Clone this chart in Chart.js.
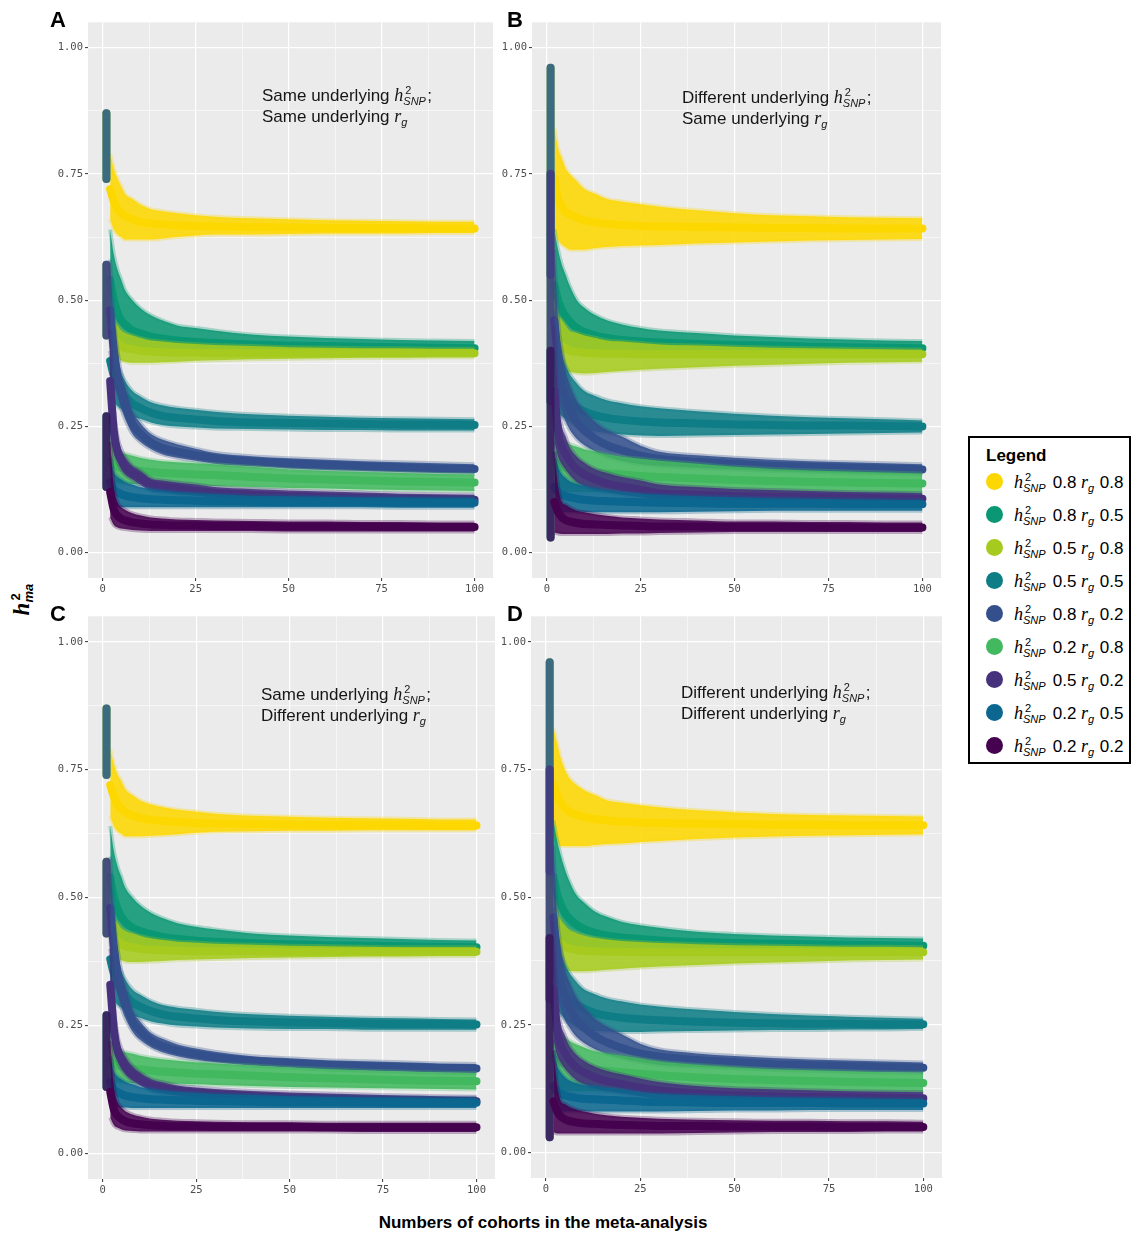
<!DOCTYPE html>
<html>
<head>
<meta charset="utf-8">
<title>h2 meta-analysis convergence</title>
<script src="https://cdn.jsdelivr.net/npm/chart.js@4.4.1/dist/chart.umd.min.js"></script>
<style>
  html, body { margin: 0; padding: 0; background: #fff; }
  body { position: relative; width: 1132px; height: 1235px; overflow: hidden;
         font-family: "Liberation Sans", Arial, sans-serif; color: #000; }
  canvas { position: absolute; }
  .tag { position: absolute; font-size: 22px; font-weight: bold; line-height: 22px; }
  .note { position: absolute; font-size: 17px; line-height: 21px; color: #161616; white-space: nowrap; z-index: 2; }
  .mi { font-family: "Liberation Serif", "DejaVu Serif", serif; font-style: italic; }
  .note .mi, #legend .mi { font-size: 18px; }
  .ss { display: inline-block; position: relative; height: 1px; font-size: 11px; line-height: 11px; }
  .ss span { position: absolute; left: 0; white-space: nowrap; }
  .ss .up { top: -15px; left: 2px; font-style: normal; }
  .ss .dn { top: -4px; font-style: italic; }
  #legend { position: absolute; left: 968px; top: 436px; width: 159px; height: 324px; border: 2px solid #000; }
  #legend .ttl { position: absolute; left: 16px; top: 8px; font-size: 17px; font-weight: bold; }
  #legend .row { position: absolute; left: 0; height: 20px; font-size: 17px; line-height: 20px; white-space: nowrap; }
  #legend .dot { position: absolute; left: 16px; top: 1px; width: 17px; height: 17px; border-radius: 50%; }
  #legend .lab { position: absolute; left: 44px; top: 0; }
  #ytitle { position: absolute; left: -9px; top: 589px; width: 60px; text-align: center;
            transform: rotate(-90deg); font-size: 23px; font-weight: bold; line-height: 22px; }
  #xtitle { position: absolute; left: 0; top: 1213px; width: 1086px; text-align: center;
            font-size: 17px; font-weight: bold; }
</style>
</head>
<body>
<canvas id="cA" width="460" height="596" style="left:40px;top:14px"></canvas>
<canvas id="cB" width="450" height="596" style="left:500px;top:14px"></canvas>
<canvas id="cC" width="460" height="600" style="left:40px;top:608px"></canvas>
<canvas id="cD" width="450" height="600" style="left:500px;top:608px"></canvas>

<div class="tag" style="left:50px;top:9px">A</div>
<div class="tag" style="left:507px;top:9px">B</div>
<div class="tag" style="left:50px;top:603px">C</div>
<div class="tag" style="left:507px;top:603px">D</div>

<div class="note" style="left:262px;top:85px">Same underlying <span class="mi">h</span><span class="ss" style="width:24px"><span class="up">2</span><span class="dn">SNP</span></span>;<br>Same underlying <span class="mi">r</span><span class="ss" style="width:7px"><span class="dn">g</span></span></div>
<div class="note" style="left:682px;top:87px">Different underlying <span class="mi">h</span><span class="ss" style="width:24px"><span class="up">2</span><span class="dn">SNP</span></span>;<br>Same underlying <span class="mi">r</span><span class="ss" style="width:7px"><span class="dn">g</span></span></div>
<div class="note" style="left:261px;top:684px">Same underlying <span class="mi">h</span><span class="ss" style="width:24px"><span class="up">2</span><span class="dn">SNP</span></span>;<br>Different underlying <span class="mi">r</span><span class="ss" style="width:7px"><span class="dn">g</span></span></div>
<div class="note" style="left:681px;top:682px">Different underlying <span class="mi">h</span><span class="ss" style="width:24px"><span class="up">2</span><span class="dn">SNP</span></span>;<br>Different underlying <span class="mi">r</span><span class="ss" style="width:7px"><span class="dn">g</span></span></div>

<div id="ytitle"><span class="mi">h</span><span class="ss" style="width:17px;font-size:13px"><span class="up" style="top:-18px">2</span><span class="dn" style="top:-5px">ma</span></span></div>
<div id="xtitle">Numbers of cohorts in the meta-analysis</div>
<div id="legend"><div class="ttl">Legend</div></div>

<script>
// cohorts in the meta-analysis (x) at which values were read
const X = [1, 2, 3, 4, 5, 6, 8, 10, 13, 16, 20, 25, 30, 40, 50, 60, 70, 80, 90, 100];
const X_TICKS = [0, 25, 50, 75, 100];
const Y_TICKS = [0, 0.25, 0.5, 0.75, 1];

// series, in legend order
const H2_SNP = [0.8, 0.8, 0.5, 0.5, 0.8, 0.2, 0.5, 0.2, 0.2];
const R_G    = [0.8, 0.5, 0.8, 0.5, 0.2, 0.8, 0.2, 0.5, 0.2];
const COLORS = ['#FDD700', '#0A9774', '#A6CB1E', '#0F7D86', '#33508C', '#42B85F', '#46317D', '#0B6690', '#45024F'];

// ---- panel A: same h2, same rg  (rows follow legend order) ----
const MID_A = [
  [.80,.72,.695,.68,.672,.666,.66,.655,.652,.65,.648,.647,.646,.645,.644,.643,.643,.643,.642,.642],
  [.80,.54,.50,.475,.46,.452,.44,.435,.428,.424,.42,.417,.415,.412,.41,.409,.408,.407,.406,.405],
  [.50,.44,.425,.415,.41,.406,.403,.40,.398,.397,.396,.396,.395,.395,.395,.395,.395,.395,.395,.395],
  [.50,.38,.35,.33,.318,.31,.295,.287,.277,.271,.267,.264,.261,.258,.257,.256,.255,.254,.254,.253],
  [.80,.48,.40,.35,.318,.295,.255,.237,.218,.208,.20,.193,.187,.181,.177,.174,.171,.169,.167,.166],
  [.20,.18,.175,.17,.168,.166,.164,.162,.16,.158,.157,.155,.154,.15,.147,.145,.143,.141,.14,.139],
  [.50,.34,.24,.20,.183,.17,.158,.149,.135,.131,.127,.123,.119,.115,.112,.11,.108,.107,.106,.105],
  [.20,.14,.125,.12,.116,.113,.11,.108,.106,.105,.104,.103,.102,.101,.10,.10,.10,.099,.099,.099],
  [.20,.12,.085,.073,.067,.064,.06,.058,.056,.055,.054,.054,.053,.053,.052,.052,.052,.051,.051,.051]
];
const LO_A = [
  [.74,.66,.64,.63,.625,.62,.62,.62,.62,.622,.625,.628,.63,.63,.631,.632,.632,.632,.633,.633],
  [.74,.44,.42,.41,.405,.40,.40,.40,.398,.398,.397,.396,.396,.395,.395,.395,.395,.395,.395,.395],
  [.43,.40,.39,.385,.38,.378,.376,.376,.376,.377,.378,.38,.381,.383,.384,.385,.386,.386,.387,.387],
  [.43,.32,.30,.29,.285,.28,.27,.265,.258,.253,.25,.248,.246,.245,.244,.243,.243,.242,.242,.242],
  [.74,.40,.34,.31,.285,.265,.235,.22,.205,.195,.188,.182,.176,.171,.167,.164,.162,.16,.158,.157],
  [.13,.14,.14,.138,.137,.137,.136,.136,.136,.135,.134,.133,.132,.13,.128,.127,.125,.124,.123,.122],
  [.43,.26,.20,.18,.165,.155,.145,.135,.122,.119,.116,.113,.109,.106,.103,.101,.10,.098,.097,.096],
  [.13,.10,.095,.092,.09,.09,.09,.09,.09,.09,.09,.09,.09,.09,.09,.09,.09,.089,.089,.089],
  [.13,.07,.055,.05,.048,.047,.045,.044,.043,.043,.043,.043,.043,.043,.042,.042,.042,.042,.042,.042]
];
const HI_A = [
  [.87,.79,.76,.74,.725,.71,.70,.69,.68,.676,.672,.668,.665,.662,.66,.658,.657,.656,.655,.655],
  [.87,.64,.59,.56,.54,.52,.50,.485,.47,.46,.45,.445,.44,.432,.428,.425,.423,.421,.42,.419],
  [.57,.48,.46,.45,.44,.435,.43,.425,.42,.418,.415,.413,.411,.409,.407,.406,.405,.405,.404,.404],
  [.57,.45,.40,.37,.355,.34,.32,.31,.298,.292,.287,.283,.279,.274,.271,.269,.267,.266,.265,.264],
  [.87,.58,.46,.40,.355,.33,.28,.258,.235,.224,.215,.206,.198,.191,.187,.184,.181,.179,.177,.175],
  [.27,.22,.21,.20,.198,.196,.192,.188,.184,.181,.179,.177,.175,.17,.165,.162,.16,.158,.156,.155],
  [.57,.44,.29,.23,.205,.19,.172,.163,.147,.143,.139,.135,.13,.126,.123,.121,.119,.117,.116,.115],
  [.27,.19,.16,.15,.145,.14,.135,.13,.126,.123,.12,.118,.116,.113,.112,.111,.11,.11,.109,.109],
  [.27,.22,.13,.10,.09,.085,.078,.074,.07,.068,.066,.065,.064,.063,.062,.062,.061,.061,.06,.06]
];

// ---- panel B: different h2, same rg ----
const MID_B = [
  [.78,.74,.70,.685,.675,.67,.663,.658,.654,.651,.649,.647,.646,.645,.644,.643,.643,.642,.642,.642],
  [.78,.53,.50,.48,.468,.458,.445,.437,.43,.425,.421,.418,.416,.413,.411,.41,.408,.407,.406,.405],
  [.50,.43,.415,.41,.405,.40,.398,.396,.395,.394,.394,.393,.393,.393,.393,.393,.393,.393,.393,.393],
  [.50,.38,.345,.325,.31,.30,.288,.28,.272,.267,.263,.26,.258,.256,.254,.253,.252,.252,.251,.25],
  [.78,.46,.38,.335,.305,.285,.258,.242,.225,.213,.203,.192,.186,.18,.176,.172,.17,.168,.167,.165],
  [.20,.18,.175,.17,.168,.166,.163,.161,.159,.157,.155,.152,.15,.147,.144,.142,.14,.139,.138,.137],
  [.50,.32,.24,.21,.195,.182,.165,.155,.145,.137,.131,.125,.118,.115,.112,.111,.11,.109,.108,.107],
  [.20,.13,.12,.115,.112,.11,.107,.105,.103,.102,.101,.10,.099,.098,.097,.097,.097,.096,.096,.096],
  [.20,.10,.08,.07,.065,.062,.059,.057,.056,.055,.054,.053,.052,.052,.051,.051,.051,.05,.05,.05]
];
const LO_B = [
  [.55,.64,.62,.61,.605,.60,.60,.60,.603,.605,.607,.608,.609,.612,.614,.616,.618,.619,.62,.621],
  [.55,.42,.41,.40,.40,.40,.40,.398,.397,.396,.395,.394,.394,.393,.392,.392,.392,.392,.392,.392],
  [.30,.36,.36,.36,.36,.358,.356,.355,.356,.358,.36,.362,.364,.367,.37,.372,.374,.376,.377,.378],
  [.30,.29,.28,.27,.265,.26,.25,.245,.24,.237,.234,.232,.231,.232,.233,.234,.235,.236,.237,.238],
  [.55,.36,.31,.28,.26,.245,.225,.213,.20,.19,.182,.175,.172,.168,.165,.162,.16,.158,.157,.156],
  [.03,.12,.12,.12,.12,.12,.12,.12,.12,.12,.12,.12,.119,.118,.118,.117,.117,.117,.117,.117],
  [.30,.22,.19,.175,.165,.155,.14,.132,.125,.12,.115,.11,.105,.102,.10,.099,.098,.097,.097,.096],
  [.03,.08,.08,.08,.08,.08,.08,.08,.08,.08,.08,.08,.08,.081,.082,.083,.083,.083,.083,.083],
  [.03,.04,.038,.037,.037,.037,.037,.037,.037,.037,.038,.038,.039,.04,.041,.041,.041,.041,.041,.041]
];
const HI_B = [
  [.96,.84,.80,.78,.76,.75,.735,.72,.71,.70,.695,.69,.685,.678,.672,.668,.666,.664,.663,.662],
  [.96,.64,.60,.57,.55,.53,.50,.485,.47,.46,.452,.445,.44,.435,.43,.427,.424,.422,.42,.419],
  [.75,.50,.47,.46,.45,.44,.435,.43,.425,.42,.418,.415,.412,.41,.408,.406,.405,.404,.403,.402],
  [.75,.48,.42,.39,.37,.355,.335,.32,.31,.302,.296,.29,.286,.28,.275,.271,.268,.266,.264,.262],
  [.96,.60,.46,.40,.36,.335,.30,.28,.258,.243,.23,.212,.20,.193,.188,.184,.181,.179,.177,.175],
  [.40,.25,.235,.225,.22,.215,.21,.205,.20,.195,.19,.186,.182,.176,.17,.166,.163,.161,.159,.157],
  [.75,.45,.30,.25,.23,.21,.19,.178,.165,.158,.15,.143,.135,.13,.126,.124,.122,.12,.119,.118],
  [.40,.20,.17,.155,.148,.142,.136,.132,.127,.124,.12,.117,.115,.112,.11,.108,.107,.106,.105,.104],
  [.40,.20,.13,.10,.095,.09,.083,.08,.076,.073,.07,.068,.066,.064,.062,.062,.061,.061,.06,.06]
];

// ---- panel C: same h2, different rg ----
const MID_C = [
  [.80,.72,.697,.682,.673,.667,.66,.656,.652,.65,.648,.646,.645,.644,.643,.642,.642,.642,.641,.641],
  [.80,.54,.50,.477,.462,.453,.441,.435,.428,.423,.419,.416,.414,.411,.409,.407,.406,.405,.404,.403],
  [.50,.44,.425,.415,.41,.406,.403,.40,.398,.397,.396,.395,.395,.395,.394,.394,.394,.394,.394,.394],
  [.50,.38,.35,.33,.318,.31,.295,.287,.278,.272,.267,.264,.261,.258,.256,.255,.254,.253,.253,.252],
  [.80,.48,.40,.35,.318,.297,.258,.24,.22,.21,.201,.194,.188,.181,.177,.173,.171,.169,.167,.166],
  [.20,.18,.176,.172,.17,.168,.166,.164,.162,.16,.158,.156,.155,.152,.149,.147,.145,.143,.142,.141],
  [.50,.33,.24,.20,.183,.17,.155,.145,.133,.128,.123,.119,.116,.112,.109,.107,.105,.104,.103,.102],
  [.20,.14,.125,.12,.116,.113,.11,.108,.106,.105,.104,.103,.102,.101,.10,.10,.10,.099,.099,.099],
  [.20,.12,.085,.073,.067,.063,.059,.057,.055,.054,.053,.053,.052,.052,.052,.051,.051,.051,.051,.051]
];
const LO_C = [
  [.74,.66,.64,.63,.625,.62,.62,.62,.621,.622,.624,.627,.629,.63,.631,.631,.632,.632,.632,.632],
  [.74,.44,.42,.41,.404,.40,.398,.397,.396,.395,.394,.394,.393,.393,.393,.393,.393,.393,.393,.393],
  [.43,.40,.39,.383,.378,.375,.374,.374,.375,.376,.378,.379,.38,.382,.383,.384,.385,.385,.386,.386],
  [.43,.32,.30,.29,.285,.28,.27,.265,.258,.254,.25,.248,.246,.244,.243,.243,.242,.242,.242,.242],
  [.74,.40,.34,.31,.285,.265,.238,.222,.207,.198,.19,.183,.178,.172,.168,.164,.162,.16,.158,.157],
  [.13,.14,.14,.138,.138,.138,.137,.137,.137,.136,.136,.135,.134,.132,.13,.129,.128,.127,.126,.125],
  [.43,.25,.20,.18,.165,.155,.142,.133,.122,.117,.113,.109,.106,.102,.099,.097,.096,.095,.094,.093],
  [.13,.10,.095,.092,.09,.09,.089,.089,.089,.089,.089,.089,.089,.089,.089,.089,.089,.089,.089,.089],
  [.13,.07,.055,.05,.047,.045,.044,.043,.043,.043,.043,.043,.043,.043,.043,.043,.042,.042,.042,.042]
];
const HI_C = [
  [.87,.79,.76,.74,.727,.712,.70,.69,.682,.677,.672,.668,.664,.66,.658,.656,.655,.654,.653,.653],
  [.87,.64,.59,.56,.54,.52,.50,.485,.47,.46,.45,.443,.438,.43,.426,.423,.421,.419,.417,.416],
  [.57,.48,.46,.45,.44,.435,.43,.425,.42,.417,.414,.412,.41,.408,.406,.405,.404,.403,.403,.403],
  [.57,.45,.40,.37,.355,.34,.32,.31,.298,.29,.285,.281,.277,.272,.269,.267,.265,.264,.263,.262],
  [.87,.58,.46,.40,.355,.33,.28,.258,.235,.224,.213,.205,.199,.19,.186,.182,.18,.178,.176,.175],
  [.27,.22,.21,.205,.2,.198,.195,.191,.187,.184,.181,.178,.176,.172,.168,.165,.162,.16,.158,.157],
  [.57,.43,.29,.23,.205,.19,.17,.158,.145,.139,.133,.129,.126,.122,.119,.117,.115,.113,.112,.111],
  [.27,.19,.16,.15,.145,.14,.135,.13,.126,.123,.12,.118,.116,.114,.112,.111,.11,.11,.109,.109],
  [.27,.22,.13,.10,.09,.083,.076,.072,.068,.066,.064,.063,.062,.061,.061,.06,.06,.06,.06,.06]
];

// ---- panel D: different h2, different rg ----
const MID_D = [
  [.76,.72,.70,.685,.675,.668,.662,.657,.653,.65,.648,.646,.645,.644,.643,.642,.642,.641,.641,.641],
  [.78,.54,.505,.485,.47,.46,.447,.438,.43,.425,.421,.418,.415,.412,.41,.409,.408,.407,.406,.405],
  [.50,.43,.415,.408,.403,.40,.397,.395,.394,.393,.393,.392,.392,.392,.392,.392,.392,.392,.392,.392],
  [.50,.38,.345,.325,.312,.302,.29,.282,.273,.268,.264,.261,.259,.256,.254,.253,.252,.252,.251,.251],
  [.78,.46,.38,.335,.305,.287,.26,.245,.228,.216,.205,.194,.188,.181,.177,.173,.171,.169,.167,.166],
  [.20,.185,.18,.176,.173,.17,.167,.165,.162,.16,.157,.154,.151,.147,.144,.142,.14,.138,.137,.136],
  [.50,.32,.24,.21,.195,.183,.167,.157,.147,.14,.134,.127,.122,.116,.112,.11,.109,.108,.107,.106],
  [.20,.13,.12,.115,.112,.11,.107,.105,.104,.103,.102,.10,.099,.098,.097,.097,.097,.096,.096,.096],
  [.20,.10,.08,.07,.065,.062,.059,.057,.056,.055,.054,.053,.052,.052,.051,.051,.051,.05,.05,.05]
];
const LO_D = [
  [.50,.62,.61,.60,.60,.60,.60,.60,.602,.604,.605,.608,.61,.614,.617,.619,.62,.621,.622,.623],
  [.55,.42,.41,.40,.40,.40,.40,.398,.397,.396,.395,.394,.394,.393,.393,.393,.393,.393,.393,.393],
  [.30,.355,.355,.356,.356,.356,.355,.355,.356,.358,.36,.362,.364,.367,.37,.372,.374,.376,.377,.378],
  [.30,.29,.28,.27,.262,.255,.246,.24,.238,.237,.236,.236,.237,.238,.239,.24,.24,.241,.241,.242],
  [.55,.36,.31,.28,.26,.247,.227,.215,.202,.193,.185,.177,.172,.168,.165,.162,.16,.158,.157,.156],
  [.03,.12,.12,.12,.12,.12,.12,.12,.12,.12,.12,.12,.12,.12,.119,.118,.118,.117,.117,.117],
  [.30,.22,.19,.175,.165,.156,.142,.134,.126,.121,.116,.11,.106,.102,.10,.099,.098,.097,.097,.096],
  [.03,.08,.08,.08,.08,.08,.08,.08,.08,.08,.08,.08,.08,.081,.082,.082,.083,.083,.083,.083],
  [.03,.04,.037,.037,.037,.037,.037,.037,.037,.037,.037,.037,.037,.038,.039,.04,.04,.04,.041,.041]
];
const HI_D = [
  [.96,.83,.80,.77,.75,.735,.72,.71,.70,.69,.685,.68,.676,.67,.666,.663,.661,.66,.659,.658],
  [.96,.65,.61,.58,.555,.535,.505,.49,.472,.462,.452,.445,.44,.432,.428,.425,.423,.421,.42,.419],
  [.75,.50,.47,.455,.445,.437,.43,.425,.42,.417,.414,.412,.41,.408,.406,.405,.404,.403,.403,.402],
  [.75,.48,.42,.39,.37,.355,.335,.32,.31,.302,.296,.29,.286,.28,.275,.271,.268,.266,.264,.262],
  [.96,.60,.46,.40,.36,.338,.305,.285,.262,.247,.232,.213,.202,.194,.189,.185,.182,.18,.178,.176],
  [.42,.26,.24,.23,.225,.22,.212,.206,.198,.194,.19,.184,.178,.172,.167,.163,.161,.159,.157,.156],
  [.75,.45,.30,.25,.23,.212,.192,.18,.168,.16,.153,.145,.138,.13,.126,.124,.122,.12,.119,.118],
  [.42,.20,.17,.156,.148,.142,.136,.132,.13,.127,.124,.118,.115,.112,.11,.108,.107,.106,.105,.104],
  [.42,.20,.13,.10,.095,.09,.084,.08,.076,.073,.07,.068,.066,.064,.063,.062,.062,.061,.061,.06]
];

const TICK_FONT = { family: "'DejaVu Sans Mono', monospace", size: 10.5 };

function rgba(hex, a) {
  const n = parseInt(hex.slice(1), 16);
  return 'rgba(' + (n >> 16) + ',' + ((n >> 8) & 255) + ',' + (n & 255) + ',' + a + ')';
}

// x >= 2 part of a series as {x, y} points
function pts(arr) {
  return X.slice(1).map(function (x, i) { return { x: x, y: arr[i + 1] }; });
}

function buildSets(mid, lo, hi) {
  const sets = [];
  COLORS.forEach(function (c, s) {
    const base = (8 - s) * 4; // later series drawn on top
    // single cohort (x = 1): vertical column of replicates
    sets.push({ data: [{ x: X[0], y: lo[s][0] }, { x: X[0], y: hi[s][0] }],
      borderColor: rgba(c, 0.7), borderWidth: 8, borderCapStyle: 'round', order: base + 3 });
    sets.push({ data: pts(lo[s]), borderColor: rgba(c, 0.3), borderWidth: 4,
      cubicInterpolationMode: 'monotone', fill: false, order: base + 2 });
    sets.push({ data: pts(hi[s]), borderColor: rgba(c, 0.3), borderWidth: 4,
      cubicInterpolationMode: 'monotone', fill: '-1', backgroundColor: rgba(c, 0.88), order: base + 1 });
    sets.push({ data: pts(mid[s]), borderColor: rgba(c, 1), borderWidth: 8,
      cubicInterpolationMode: 'monotone', borderCapStyle: 'round', borderJoinStyle: 'round', order: base });
  });
  return sets;
}

const panelBg = {
  id: 'panelBg',
  beforeDraw: function (chart) {
    const a = chart.chartArea, ctx = chart.ctx;
    ctx.save();
    ctx.fillStyle = '#EBEBEB';
    ctx.fillRect(a.left, a.top, a.right - a.left, a.bottom - a.top);
    ctx.restore();
  }
};

function isMajor(list, v) {
  return list.some(function (t) { return Math.abs(t - v) < 1e-6; });
}

function axis(list, step, fmt, extra) {
  return Object.assign({
    type: 'linear',
    border: { display: false },
    grid: {
      color: '#FFFFFF',
      lineWidth: function (c) { return c.tick && isMajor(list, c.tick.value) ? 1.2 : 0.55; },
      tickLength: 3,
      tickWidth: 1,
      tickColor: function (c) { return c.tick && isMajor(list, c.tick.value) ? '#333333' : 'rgba(0,0,0,0)'; }
    },
    ticks: {
      stepSize: step, includeBounds: false, autoSkip: false, maxRotation: 0, padding: 2,
      color: '#4D4D4D', font: TICK_FONT,
      callback: function (v) { return isMajor(list, v) ? fmt(v) : ''; }
    }
  }, extra);
}

function makeChart(id, mid, lo, hi, geo) {
  return new Chart(document.getElementById(id), {
    type: 'line',
    data: { datasets: buildSets(mid, lo, hi) },
    options: {
      responsive: false, animation: false, events: [],
      layout: { padding: { top: geo.top, right: geo.right, left: 0, bottom: 0 } },
      elements: { point: { radius: 0 } },
      plugins: { legend: { display: false }, tooltip: { enabled: false } },
      scales: {
        x: axis(X_TICKS, 12.5, function (v) { return String(v); },
          { min: -3.95, max: 104.95, afterFit: function (s) { s.height = geo.xh; } }),
        y: axis(Y_TICKS, 0.125, function (v) { return v.toFixed(2); },
          { min: -0.05, max: 1.05, afterFit: function (s) { s.width = geo.yw; } })
      }
    },
    plugins: [panelBg]
  });
}

makeChart('cA', MID_A, LO_A, HI_A, { top: 6, right: 7, xh: 32, yw: 48 });
makeChart('cB', MID_B, LO_B, HI_B, { top: 6, right: 9, xh: 32, yw: 32 });
makeChart('cC', MID_C, LO_C, HI_C, { top: 7, right: 5, xh: 29, yw: 48 });
makeChart('cD', MID_D, LO_D, HI_D, { top: 7, right: 8, xh: 30, yw: 31 });

// legend box
const legend = document.getElementById('legend');
COLORS.forEach(function (c, i) {
  const row = document.createElement('div');
  row.className = 'row';
  row.style.top = (34 + i * 33) + 'px';
  row.innerHTML = '<span class="dot" style="background:' + c + '"></span>' +
    '<span class="lab"><span class="mi">h</span><span class="ss" style="width:25px"><span class="up">2</span><span class="dn">SNP</span></span> ' +
    H2_SNP[i].toFixed(1) + ' <span class="mi">r</span><span class="ss" style="width:7px"><span class="dn">g</span></span> ' +
    R_G[i].toFixed(1) + '</span>';
  legend.appendChild(row);
});
</script>
</body>
</html>
